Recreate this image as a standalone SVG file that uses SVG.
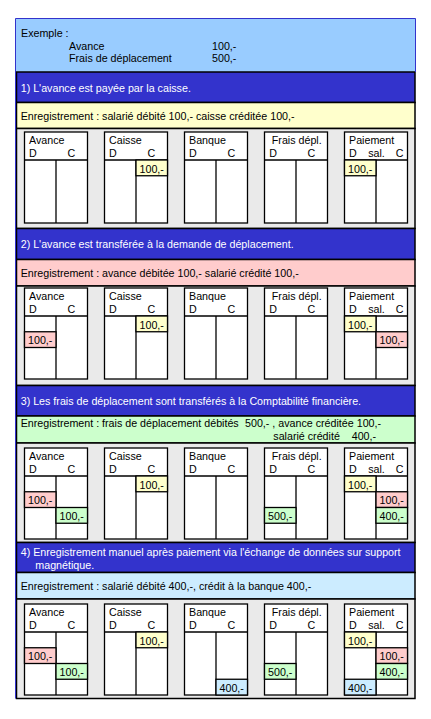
<svg xmlns="http://www.w3.org/2000/svg" xmlns:xlink="http://www.w3.org/1999/xlink" width="431" height="719" viewBox="0 0 431 719">
<style>
.t{font-family:"Liberation Sans",Arial,sans-serif;font-size:10.7px;fill:#000}
.w{fill:#fff}
.band{stroke:#000;stroke-width:1.5}
.title{fill:#3333CC}
.grey{fill:#EAEAEA}
.box{fill:#fff;stroke:#000;stroke-width:1.3}
.ln{stroke:#000;stroke-width:1.3}
.cy{fill:#FFFFCC;stroke:#000;stroke-width:1.3}
.cp{fill:#FFCCCC;stroke:#000;stroke-width:1.3}
.cg{fill:#CCFFCC;stroke:#000;stroke-width:1.3}
.cb{fill:#CCECFF;stroke:#000;stroke-width:1.3}
</style>
<defs>
<g id="frame">
<rect x="0" y="0" width="63" height="91" class="box"/>
<line x1="0" y1="28" x2="63" y2="28" class="ln"/>
<line x1="31.5" y1="28" x2="31.5" y2="91" class="ln"/>
</g>
<g id="avance"><use xlink:href="#frame"/><text class="t" x="4.5" y="11.5">Avance</text><text class="t" x="4.5" y="24.5">D</text><text class="t" x="43" y="24.5">C</text></g>
<g id="caisse"><use xlink:href="#frame"/><text class="t" x="4.5" y="11.5">Caisse</text><text class="t" x="4.5" y="24.5">D</text><text class="t" x="43" y="24.5">C</text></g>
<g id="banque"><use xlink:href="#frame"/><text class="t" x="4.5" y="11.5">Banque</text><text class="t" x="4.5" y="24.5">D</text><text class="t" x="43" y="24.5">C</text></g>
<g id="frais"><use xlink:href="#frame"/><text class="t" x="7.3" y="11.5">Frais dépl.</text><text class="t" x="4.7" y="24.5">D</text><text class="t" x="43" y="24.5">C</text></g>
<g id="paiement"><use xlink:href="#frame"/><text class="t" x="4.5" y="11.5">Paiement</text><text class="t" x="4.5" y="24.5">D</text><text class="t" x="23.7" y="24.5">sal.</text><text class="t" x="51.3" y="24.5">C</text></g>
</defs>

<g id="header">
<rect x="15.5" y="18.5" width="400" height="53.5" fill="#99CCFF"/>
<text class="t" x="21" y="37.3">Exemple :</text>
<text class="t" x="69" y="50">Avance</text>
<text class="t" x="69" y="62.3">Frais de déplacement</text>
<text class="t" x="212" y="50">100,-</text>
<text class="t" x="212" y="62.3">500,-</text>
</g>

<!-- Section 1 -->
<g id="section1">
<rect class="band title" x="16.5" y="72" width="398.5" height="30.5"/>
<text class="t w" x="20.7" y="91.5">1) L'avance est payée par la caisse.</text>
<rect class="band" fill="#FFFFCC" x="16.5" y="102.5" width="398.5" height="26"/>
<text class="t" x="20.7" y="119.5">Enregistrement : salarié débité 100,- caisse créditée 100,-</text>
<rect class="band grey" x="16.5" y="128.5" width="398.5" height="100"/>
<g id="s1-avance" transform="translate(24.5,132)"><use xlink:href="#avance"/></g>
<g id="s1-caisse" transform="translate(104.5,132)"><use xlink:href="#caisse"/>
<rect class="cy" x="31.5" y="28" width="31.5" height="15.75"/><text class="t" x="35" y="40.5">100,-</text></g>
<g id="s1-banque" transform="translate(184.5,132)"><use xlink:href="#banque"/></g>
<g id="s1-frais" transform="translate(264.5,132)"><use xlink:href="#frais"/></g>
<g id="s1-paiement" transform="translate(344.5,132)"><use xlink:href="#paiement"/>
<rect class="cy" x="0" y="28" width="31.5" height="15.75"/><text class="t" x="3.5" y="40.5">100,-</text></g>
</g>

<!-- Section 2 -->
<g id="section2">
<rect class="band title" x="16.5" y="228.5" width="398.5" height="31"/>
<text class="t w" x="20.7" y="248">2) L'avance est transférée à la demande de déplacement.</text>
<rect class="band" fill="#FFCCCC" x="16.5" y="259.5" width="398.5" height="26.5"/>
<text class="t" x="20.7" y="276.5">Enregistrement : avance débitée 100,- salarié crédité 100,-</text>
<rect class="band grey" x="16.5" y="286" width="398.5" height="99.5"/>
<g id="s2-avance" transform="translate(24.5,288)"><use xlink:href="#avance"/>
<rect class="cp" x="0" y="43.75" width="31.5" height="15.75"/><text class="t" x="3.5" y="56.25">100,-</text></g>
<g id="s2-caisse" transform="translate(104.5,288)"><use xlink:href="#caisse"/>
<rect class="cy" x="31.5" y="28" width="31.5" height="15.75"/><text class="t" x="35" y="40.5">100,-</text></g>
<g id="s2-banque" transform="translate(184.5,288)"><use xlink:href="#banque"/></g>
<g id="s2-frais" transform="translate(264.5,288)"><use xlink:href="#frais"/></g>
<g id="s2-paiement" transform="translate(344.5,288)"><use xlink:href="#paiement"/>
<rect class="cy" x="0" y="28" width="31.5" height="15.75"/><text class="t" x="3.5" y="40.5">100,-</text>
<rect class="cp" x="31.5" y="43.75" width="31.5" height="15.75"/><text class="t" x="35" y="56.25">100,-</text></g>
</g>

<!-- Section 3 -->
<g id="section3">
<rect class="band title" x="16.5" y="385.5" width="398.5" height="30.5"/>
<text class="t w" x="20.7" y="405">3) Les frais de déplacement sont transférés à la Comptabilité financière.</text>
<rect class="band" fill="#CCFFCC" x="16.5" y="416" width="398.5" height="27"/>
<text class="t" x="20.7" y="427">Enregistrement : frais de déplacement débités</text>
<text class="t" x="245" y="427">500,- , avance créditée 100,-</text>
<text class="t" x="273.3" y="440">salarié crédité</text>
<text class="t" x="351.7" y="440">400,-</text>
<rect class="band grey" x="16.5" y="443" width="398.5" height="99.5"/>
<g id="s3-avance" transform="translate(24.5,448)"><use xlink:href="#avance"/>
<rect class="cp" x="0" y="43.75" width="31.5" height="15.75"/><text class="t" x="3.5" y="56.25">100,-</text>
<rect class="cg" x="31.5" y="59.5" width="31.5" height="15.75"/><text class="t" x="35" y="72">100,-</text></g>
<g id="s3-caisse" transform="translate(104.5,448)"><use xlink:href="#caisse"/>
<rect class="cy" x="31.5" y="28" width="31.5" height="15.75"/><text class="t" x="35" y="40.5">100,-</text></g>
<g id="s3-banque" transform="translate(184.5,448)"><use xlink:href="#banque"/></g>
<g id="s3-frais" transform="translate(264.5,448)"><use xlink:href="#frais"/>
<rect class="cg" x="0" y="59.5" width="31.5" height="15.75"/><text class="t" x="3.5" y="72">500,-</text></g>
<g id="s3-paiement" transform="translate(344.5,448)"><use xlink:href="#paiement"/>
<rect class="cy" x="0" y="28" width="31.5" height="15.75"/><text class="t" x="3.5" y="40.5">100,-</text>
<rect class="cp" x="31.5" y="43.75" width="31.5" height="15.75"/><text class="t" x="35" y="56.25">100,-</text>
<rect class="cg" x="31.5" y="59.5" width="31.5" height="15.75"/><text class="t" x="35" y="72">400,-</text></g>
</g>

<!-- Section 4 -->
<g id="section4">
<rect class="band title" x="16.5" y="542.5" width="398.5" height="30"/>
<text class="t w" x="20.7" y="555.5">4) Enregistrement manuel après paiement via l'échange de données sur support</text>
<text class="t w" x="35.3" y="568.5">magnétique.</text>
<rect class="band" fill="#CCECFF" x="16.5" y="572.5" width="398.5" height="26.5"/>
<text class="t" x="20.7" y="590">Enregistrement : salarié débité 400,-, crédit à la banque 400,-</text>
<rect class="band grey" x="16.5" y="599" width="398.5" height="99.5"/>
<g id="s4-avance" transform="translate(24.5,604)"><use xlink:href="#avance"/>
<rect class="cp" x="0" y="43.75" width="31.5" height="15.75"/><text class="t" x="3.5" y="56.25">100,-</text>
<rect class="cg" x="31.5" y="59.5" width="31.5" height="15.75"/><text class="t" x="35" y="72">100,-</text></g>
<g id="s4-caisse" transform="translate(104.5,604)"><use xlink:href="#caisse"/>
<rect class="cy" x="31.5" y="28" width="31.5" height="15.75"/><text class="t" x="35" y="40.5">100,-</text></g>
<g id="s4-banque" transform="translate(184.5,604)"><use xlink:href="#banque"/>
<rect class="cb" x="31.5" y="75.25" width="31.5" height="15.75"/><text class="t" x="35" y="87.75">400,-</text></g>
<g id="s4-frais" transform="translate(264.5,604)"><use xlink:href="#frais"/>
<rect class="cg" x="0" y="59.5" width="31.5" height="15.75"/><text class="t" x="3.5" y="72">500,-</text></g>
<g id="s4-paiement" transform="translate(344.5,604)"><use xlink:href="#paiement"/>
<rect class="cy" x="0" y="28" width="31.5" height="15.75"/><text class="t" x="3.5" y="40.5">100,-</text>
<rect class="cp" x="31.5" y="43.75" width="31.5" height="15.75"/><text class="t" x="35" y="56.25">100,-</text>
<rect class="cg" x="31.5" y="59.5" width="31.5" height="15.75"/><text class="t" x="35" y="72">400,-</text>
<rect class="cb" x="0" y="75.25" width="31.5" height="15.75"/><text class="t" x="3.5" y="87.75">400,-</text></g>
</g>

<g id="outer-frame">
<polyline points="15.5,698.5 15.5,18.5 415.5,18.5 415.5,72" fill="none" stroke="#3333CC" stroke-width="1"/>
</g>
</svg>
